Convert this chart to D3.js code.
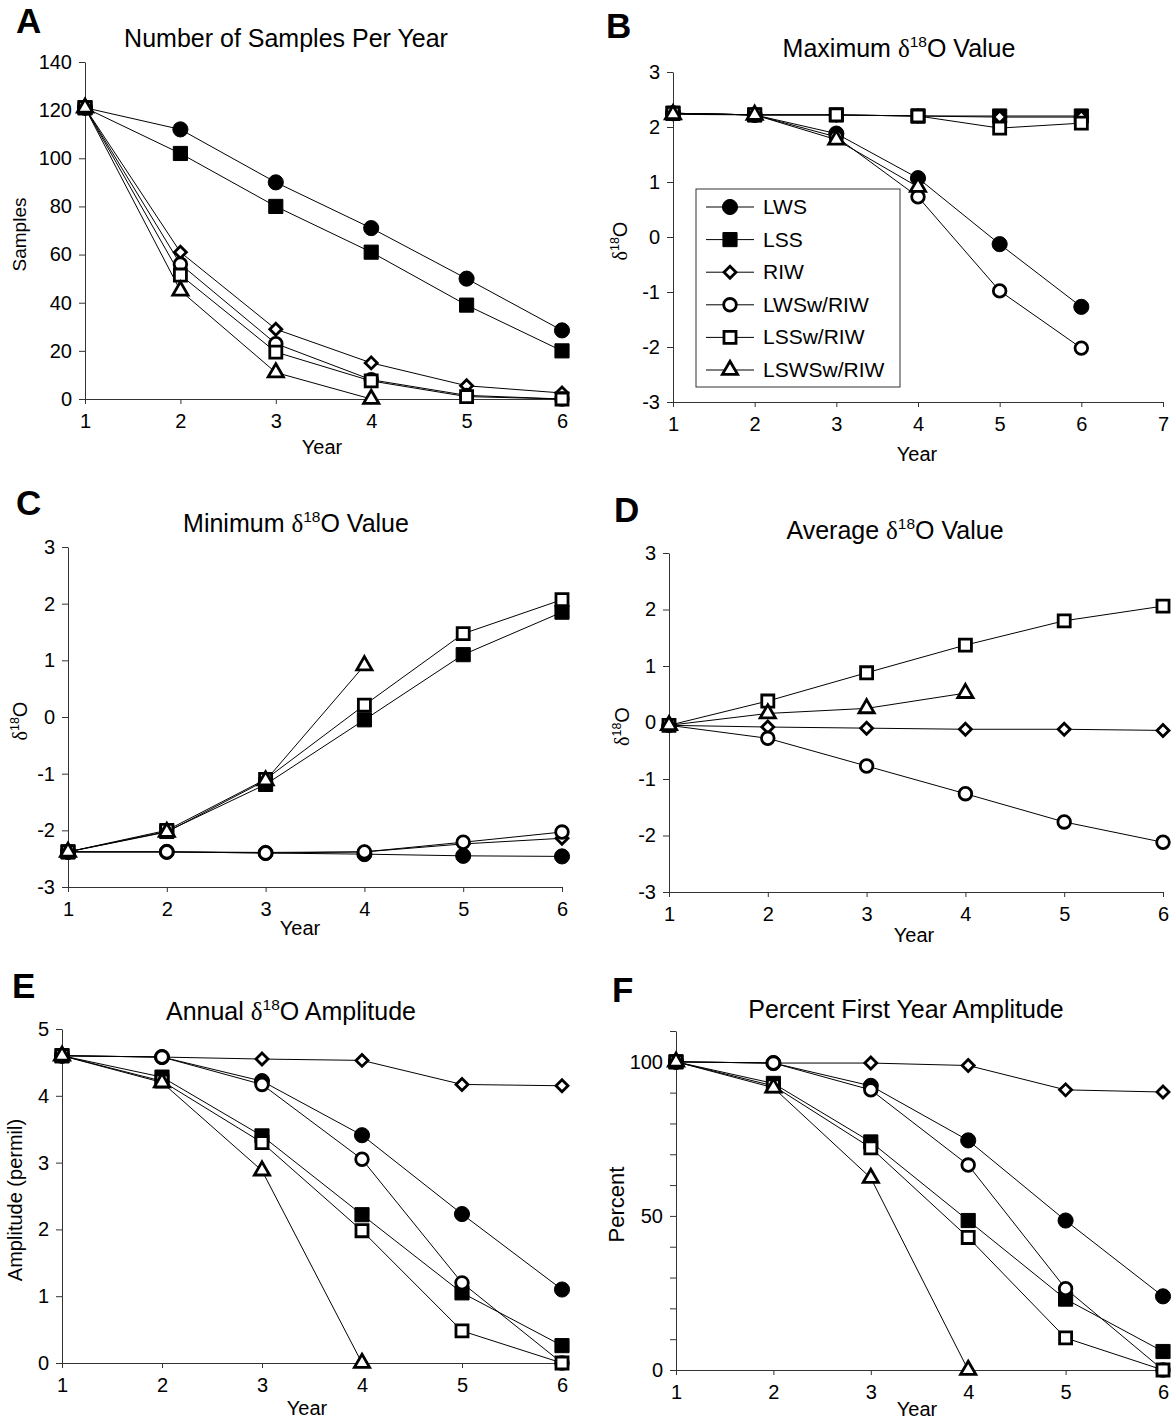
<!DOCTYPE html>
<html lang="en">
<head>
<meta charset="UTF-8">
<script src="https://cdn.jsdelivr.net/npm/d3@7"></script>
<style>
  body { margin: 0; background: #fff; }
  text { font-family: "Liberation Sans", Arial, sans-serif; fill: #000; }
</style>
</head>
<body>
<script>
// ---- data ----
const years = [1, 2, 3, 4, 5, 6];
const seriesNames = ["LWS", "LSS", "RIW", "LWSw/RIW", "LSSw/RIW", "LSWSw/RIW"];
const markerTypes = ["circleFilled", "squareFilled", "diamond", "circle", "square", "triangle"];

const titles = [
  "Number of Samples Per Year",
  "Maximum δ18O Value",
  "Minimum δ18O Value",
  "Average δ18O Value",
  "Annual δ18O Amplitude",
  "Percent First Year Amplitude"
];
const yLabels = ["Samples", "δ18O", "δ18O", "δ18O", "Amplitude (permil)", "Percent"];

// rows follow seriesNames order; null = series not shown
const samples = [
  [121, 112, 90, 71, 50, 28.5],
  [121, 102, 80, 61, 39, 20],
  [121, 61, 29, 15, 5.5, 2.5],
  [121, 56, 23, 8, 1.5, 0],
  [121, 51.5, 19.5, 7.5, 1, 0],
  [121, 45, 11, 0]
];
const maxD18O = [
  [2.25, 2.22, 1.88, 1.07, -0.13, -1.27],
  [2.25, 2.22, 2.22, 2.2, 2.2, 2.2],
  [2.25, 2.22, 2.22, 2.2, 2.18, 2.18],
  [2.25, 2.22, 1.82, 0.73, -0.98, -2.02],
  [2.25, 2.22, 2.22, 2.2, 1.98, 2.07],
  [2.23, 2.22, 1.77, 0.91]
];
const minD18O = [
  [-2.38, -2.38, -2.4, -2.42, -2.45, -2.46],
  [-2.38, -2.02, -1.19, -0.05, 1.1, 1.85],
  [-2.38, -2.38, -2.39, -2.38, -2.24, -2.14],
  [-2.38, -2.38, -2.4, -2.38, -2.21, -2.03],
  [-2.38, -2.0, -1.1, 0.21, 1.47, 2.07],
  [-2.38, -2.03, -1.12, 0.91]
];
const avgD18O = [
  null,
  null,
  [-0.05, -0.08, -0.1, -0.12, -0.12, -0.14],
  [-0.05, -0.28, -0.77, -1.26, -1.76, -2.12],
  [-0.05, 0.38, 0.88, 1.37, 1.8, 2.06],
  [-0.05, 0.16, 0.25, 0.52]
];
const amplitude = [
  [4.6, 4.58, 4.22, 3.41, 2.23, 1.1],
  [4.6, 4.28, 3.4, 2.22, 1.05, 0.26],
  [4.6, 4.58, 4.55, 4.53, 4.17, 4.15],
  [4.6, 4.58, 4.17, 3.05, 1.2, 0],
  [4.6, 4.22, 3.3, 1.98, 0.48, 0],
  [4.6, 4.2, 2.88, 0]
];
const percentFirst = [
  [100, 99.6, 92.2, 74.5, 48.5, 23.9],
  [100, 93, 74, 48.5, 23, 6],
  [100, 99.6, 99.6, 98.8, 90.9, 90.2],
  [100, 99.6, 90.9, 66.5, 26.4, 0],
  [100, 92.2, 72.1, 43, 10.4, 0],
  [100, 91.6, 62.3, 0]
];

const samplesTicks = [0, 20, 40, 60, 80, 100, 120, 140];
const deltaTicks = [-3, -2, -1, 0, 1, 2, 3];
const ampTicks = [0, 1, 2, 3, 4, 5];
const percentTicks = [0, 10, 20, 30, 40, 50, 60, 70, 80, 90, 100, 110];
const percentLabels = [0, 50, 100];

// ---- layout ----
const width = 1174, height = 1423;
const svg = d3.select("body").append("svg")
  .attr("width", width)
  .attr("height", height);

const panels = [
  { letter: "A", title: titles[0], yLabel: yLabels[0], data: samples, xMax: 6,
    yDom: [0, 140], yTicks: samplesTicks, left: 85, right: 562, bottom: 399, top: 62,
    letterXY: [16, 33], titleXY: [286, 47], yLabelX: 26, yLabelSize: 19, xLabelXY: [322, 454] },
  { letter: "B", title: titles[1], yLabel: yLabels[1], data: maxD18O, xMax: 7,
    yDom: [-3, 3], yTicks: deltaTicks, left: 673, right: 1163, bottom: 402, top: 72,
    letterXY: [606, 38], titleXY: [899, 57], yLabelX: 627, yLabelSize: 20, xLabelXY: [917, 461], legend: true },
  { letter: "C", title: titles[2], yLabel: yLabels[2], data: minD18O, xMax: 6,
    yDom: [-3, 3], yTicks: deltaTicks, left: 68, right: 562, bottom: 887, top: 547,
    letterXY: [16, 515], titleXY: [296, 532], yLabelX: 27, yLabelSize: 20, xLabelXY: [300, 935] },
  { letter: "D", title: titles[3], yLabel: yLabels[3], data: avgD18O, xMax: 6,
    yDom: [-3, 3], yTicks: deltaTicks, left: 669, right: 1163, bottom: 892, top: 553,
    letterXY: [614, 522], titleXY: [895, 539], yLabelX: 629, yLabelSize: 20, xLabelXY: [914, 942] },
  { letter: "E", title: titles[4], yLabel: yLabels[4], data: amplitude, xMax: 6,
    yDom: [0, 5], yTicks: ampTicks, left: 62, right: 562, bottom: 1363, top: 1029,
    letterXY: [12, 998], titleXY: [291, 1020], yLabelX: 22, yLabelSize: 20, xLabelXY: [307, 1415] },
  { letter: "F", title: titles[5], yLabel: yLabels[5], data: percentFirst, xMax: 6,
    yDom: [0, 110], yTicks: percentTicks, yLabelVals: percentLabels,
    left: 676, right: 1163, bottom: 1370, top: 1031,
    letterXY: [612, 1002], titleXY: [906, 1018], yLabelX: 624, yLabelSize: 22, xLabelXY: [917, 1416] }
];

// text with δ18O rendered as delta + superscript
function richText(sel, str, size) {
  const parts = str.split("δ18O");
  parts.forEach((p, i) => {
    if (p) sel.append("tspan").text(p);
    if (i < parts.length - 1) {
      sel.append("tspan").attr("font-family", "'Liberation Serif', 'DejaVu Serif', serif").text("δ");
      sel.append("tspan").attr("font-size", size * 0.62).attr("dy", -size * 0.42).text("18");
      sel.append("tspan").attr("dy", size * 0.42).text("O");
    }
  });
}

function marker(g, type, x, y) {
  let sym, rot = 0, filled = type.endsWith("Filled");
  if (type.startsWith("circle")) sym = d3.symbol(d3.symbolCircle, filled ? 180 : 125);
  else if (type.startsWith("square")) sym = d3.symbol(d3.symbolSquare, filled ? 200 : 145);
  else if (type === "diamond") { sym = d3.symbol(d3.symbolSquare, 72); rot = 45; }
  else sym = d3.symbol(d3.symbolTriangle, 100);
  g.append("path")
    .attr("d", sym())
    .attr("transform", `translate(${x},${y}) rotate(${rot})`)
    .attr("fill", filled ? "#000" : "#fff")
    .attr("stroke", "#000")
    .attr("stroke-width", filled ? 1 : 2.8);
}

panels.forEach(p => {
  const g = svg.append("g");
  const x = d3.scaleLinear().domain([1, p.xMax]).range([p.left, p.right]);
  const y = d3.scaleLinear().domain(p.yDom).range([p.bottom, p.top]);

  // panel letter
  g.append("text")
    .attr("x", p.letterXY[0]).attr("y", p.letterXY[1])
    .attr("font-size", 35).attr("font-weight", "bold")
    .text(p.letter);

  // title
  const t = g.append("text")
    .attr("x", p.titleXY[0]).attr("y", p.titleXY[1])
    .attr("text-anchor", "middle").attr("font-size", 25);
  richText(t, p.title, 25);

  // y axis
  const labelVals = p.yLabelVals || p.yTicks;
  const yAxis = d3.axisLeft(y)
    .tickValues(p.yTicks)
    .tickSize(6).tickSizeOuter(0).tickPadding(7)
    .tickFormat(d => labelVals.includes(d) ? d : "");
  const ya = g.append("g").attr("transform", `translate(${p.left},0)`).call(yAxis);
  ya.selectAll("text").attr("font-size", 20).attr("font-family", "'Liberation Sans', Arial, sans-serif");

  // x axis
  const xAxis = d3.axisBottom(x)
    .tickValues(d3.range(1, p.xMax + 1))
    .tickSize(5).tickSizeOuter(0).tickPadding(10)
    .tickFormat(d3.format("d"));
  const xa = g.append("g").attr("transform", `translate(0,${p.bottom})`).call(xAxis);
  xa.selectAll("text").attr("font-size", 20).attr("font-family", "'Liberation Sans', Arial, sans-serif");

  g.selectAll(".domain, .tick line").attr("stroke", "#333").attr("stroke-width", 1);

  // axis titles
  const yl = g.append("text")
    .attr("transform", `translate(${p.yLabelX},${(p.top + p.bottom) / 2 + 4}) rotate(-90)`)
    .attr("text-anchor", "middle").attr("font-size", p.yLabelSize);
  richText(yl, p.yLabel, p.yLabelSize);
  g.append("text")
    .attr("x", p.xLabelXY[0]).attr("y", p.xLabelXY[1])
    .attr("text-anchor", "middle").attr("font-size", 20)
    .text("Year");

  // series
  const line = d3.line().x((d, i) => x(years[i])).y(d => y(d));
  p.data.forEach((vals, si) => {
    if (!vals) return;
    const sg = g.append("g");
    sg.append("path")
      .attr("d", line(vals))
      .attr("fill", "none").attr("stroke", "#000").attr("stroke-width", 1);
    vals.forEach((v, i) => marker(sg, markerTypes[si], x(years[i]), y(v)));
  });

  // legend (panel B)
  if (p.legend) {
    const lg = g.append("g");
    lg.append("rect")
      .attr("x", 696).attr("y", 189).attr("width", 204).attr("height", 198)
      .attr("fill", "#fff").attr("stroke", "#333").attr("stroke-width", 1);
    seriesNames.forEach((name, i) => {
      const ly = 207 + i * 32.6;
      lg.append("line")
        .attr("x1", 706).attr("x2", 754).attr("y1", ly).attr("y2", ly)
        .attr("stroke", "#000").attr("stroke-width", 1);
      marker(lg, markerTypes[i], 730, ly);
      lg.append("text")
        .attr("x", 763).attr("y", ly + 7)
        .attr("font-size", 21)
        .text(name);
    });
  }
});
</script>
</body>
</html>
